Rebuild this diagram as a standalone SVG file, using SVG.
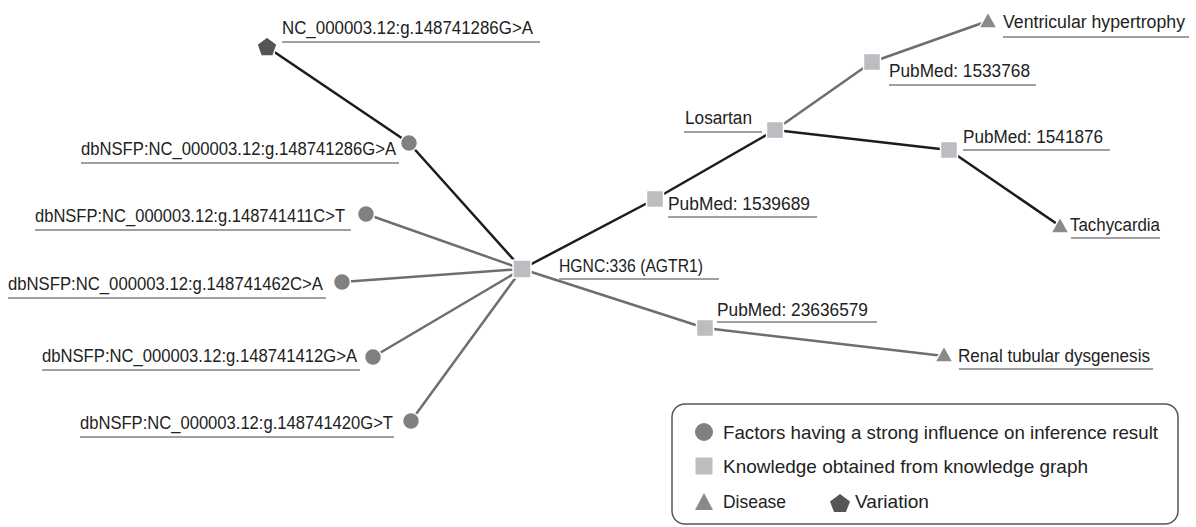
<svg xmlns="http://www.w3.org/2000/svg" width="1196" height="527" viewBox="0 0 1196 527">
<defs>
<style>
text{font-family:"Liberation Sans",Arial,sans-serif;font-size:18px;fill:#222}
.lg{font-size:19px}
.ul{stroke:#a0a0a3;stroke-width:2}
.ek{stroke:#1c1c1c;stroke-width:2.5;fill:none}
.eg{stroke:#6e6e70;stroke-width:2.5;fill:none}
.c{fill:#808083;stroke:#fff;stroke-width:1.5}
.s{fill:#bdbdc1;stroke:#fff;stroke-width:1.5}
.t{fill:#8a8a8d;stroke:#fff;stroke-width:1.5}
.p{fill:#555558;stroke:#fff;stroke-width:1.5}
</style>
</defs>
<rect width="1196" height="527" fill="#fff"/>
<g id="connectors">
<line class="ek" x1="267" y1="47" x2="409" y2="143"/>
<line class="ek" x1="409" y1="143" x2="522" y2="269"/>
<line class="eg" x1="366" y1="214" x2="522" y2="269"/>
<line class="eg" x1="342" y1="282" x2="522" y2="269"/>
<line class="eg" x1="373" y1="357" x2="522" y2="269"/>
<line class="eg" x1="411" y1="421" x2="522" y2="269"/>
<line class="ek" x1="522" y1="269" x2="655" y2="199"/>
<line class="ek" x1="655" y1="199" x2="775" y2="130"/>
<line class="eg" x1="775" y1="130" x2="872" y2="62"/>
<line class="eg" x1="872" y1="62" x2="988" y2="21"/>
<line class="ek" x1="775" y1="130" x2="949" y2="150"/>
<line class="ek" x1="949" y1="150" x2="1060" y2="226"/>
<line class="eg" x1="522" y1="269" x2="705" y2="328"/>
<line class="eg" x1="705" y1="328" x2="944" y2="356"/>
</g>
<g id="n-variation">
<polygon class="p" points="267,37 277,44.5 273,56 261,56 257,44.5"/>
<text x="282" y="34" textLength="251" lengthAdjust="spacingAndGlyphs">NC_000003.12:g.148741286G&gt;A</text>
<line class="ul" x1="282" y1="42" x2="540" y2="42"/>
</g>
<g id="n-f1">
<circle class="c" cx="409" cy="143" r="8.5"/>
<text x="81" y="155" textLength="315" lengthAdjust="spacingAndGlyphs">dbNSFP:NC_000003.12:g.148741286G&gt;A</text>
<line class="ul" x1="81" y1="163" x2="399" y2="163"/>
</g>
<g id="n-f2">
<circle class="c" cx="366" cy="214" r="8.5"/>
<text x="35" y="222" textLength="310" lengthAdjust="spacingAndGlyphs">dbNSFP:NC_000003.12:g.148741411C&gt;T</text>
<line class="ul" x1="35" y1="230" x2="351" y2="230"/>
</g>
<g id="n-f3">
<circle class="c" cx="342" cy="282" r="8.5"/>
<text x="8" y="290" textLength="315" lengthAdjust="spacingAndGlyphs">dbNSFP:NC_000003.12:g.148741462C&gt;A</text>
<line class="ul" x1="8" y1="298" x2="326" y2="298"/>
</g>
<g id="n-f4">
<circle class="c" cx="373" cy="357" r="8.5"/>
<text x="42" y="362" textLength="315" lengthAdjust="spacingAndGlyphs">dbNSFP:NC_000003.12:g.148741412G&gt;A</text>
<line class="ul" x1="42" y1="370" x2="360" y2="370"/>
</g>
<g id="n-f5">
<circle class="c" cx="411" cy="421" r="8.5"/>
<text x="80" y="429" textLength="313" lengthAdjust="spacingAndGlyphs">dbNSFP:NC_000003.12:g.148741420G&gt;T</text>
<line class="ul" x1="80" y1="437" x2="394" y2="437"/>
</g>
<g id="n-hgnc">
<rect class="s" x="513" y="260" width="18" height="18"/>
<text x="559" y="272" textLength="144" lengthAdjust="spacingAndGlyphs">HGNC:336 (AGTR1)</text>
<line class="ul" x1="559" y1="279" x2="719" y2="279"/>
</g>
<g id="n-pm1539689">
<rect class="s" x="646.5" y="190.5" width="17" height="17"/>
<text x="668" y="210" textLength="142" lengthAdjust="spacingAndGlyphs">PubMed: 1539689</text>
<line class="ul" x1="668" y1="217" x2="817" y2="217"/>
</g>
<g id="n-losartan">
<rect class="s" x="766.5" y="121.5" width="17" height="17"/>
<text x="685" y="124" textLength="67" lengthAdjust="spacingAndGlyphs">Losartan</text>
<line class="ul" x1="684" y1="132" x2="762" y2="132"/>
</g>
<g id="n-pm1533768">
<rect class="s" x="863.5" y="53.5" width="17" height="17"/>
<text x="889" y="77" textLength="141" lengthAdjust="spacingAndGlyphs">PubMed: 1533768</text>
<line class="ul" x1="889" y1="85" x2="1036" y2="85"/>
</g>
<g id="n-ventricular">
<polygon class="t" points="988,12 997,28 979,28"/>
<text x="1003" y="28" textLength="182" lengthAdjust="spacingAndGlyphs">Ventricular hypertrophy</text>
<line class="ul" x1="1003" y1="37" x2="1189" y2="37"/>
</g>
<g id="n-pm1541876">
<rect class="s" x="940.5" y="141.5" width="17" height="17"/>
<text x="963" y="143" textLength="140" lengthAdjust="spacingAndGlyphs">PubMed: 1541876</text>
<line class="ul" x1="963" y1="150" x2="1110" y2="150"/>
</g>
<g id="n-tachycardia">
<polygon class="t" points="1060,217 1069,233 1051,233"/>
<text x="1070" y="231" textLength="90" lengthAdjust="spacingAndGlyphs">Tachycardia</text>
<line class="ul" x1="1071" y1="238" x2="1160" y2="238"/>
</g>
<g id="n-pm23636579">
<rect class="s" x="696.5" y="319.5" width="17" height="17"/>
<text x="717" y="316" textLength="151" lengthAdjust="spacingAndGlyphs">PubMed: 23636579</text>
<line class="ul" x1="717" y1="322" x2="877" y2="322"/>
</g>
<g id="n-renal">
<polygon class="t" points="944,346 953,362 935,362"/>
<text x="958" y="362" textLength="192" lengthAdjust="spacingAndGlyphs">Renal tubular dysgenesis</text>
<line class="ul" x1="959" y1="369" x2="1153" y2="369"/>
</g>
<g id="legend">
<rect x="672" y="404" width="506" height="120" rx="13" fill="#fff" stroke="#555" stroke-width="1.5"/>
<circle cx="704" cy="432" r="9" fill="#808083"/>
<text class="lg" x="723" y="439" textLength="435" lengthAdjust="spacingAndGlyphs">Factors having a strong influence on inference result</text>
<rect x="695.5" y="457.5" width="17" height="17" fill="#bdbdc1"/>
<text class="lg" x="723" y="473" textLength="365" lengthAdjust="spacingAndGlyphs">Knowledge obtained from knowledge graph</text>
<polygon points="704,493 713,510 695,510" fill="#8a8a8d"/>
<text class="lg" x="723" y="508" textLength="63" lengthAdjust="spacingAndGlyphs">Disease</text>
<polygon points="840,494 850,501.5 846,512 834,512 830,501.5" fill="#555558"/>
<text class="lg" x="855" y="508" textLength="74" lengthAdjust="spacingAndGlyphs">Variation</text>
</g>
</svg>
